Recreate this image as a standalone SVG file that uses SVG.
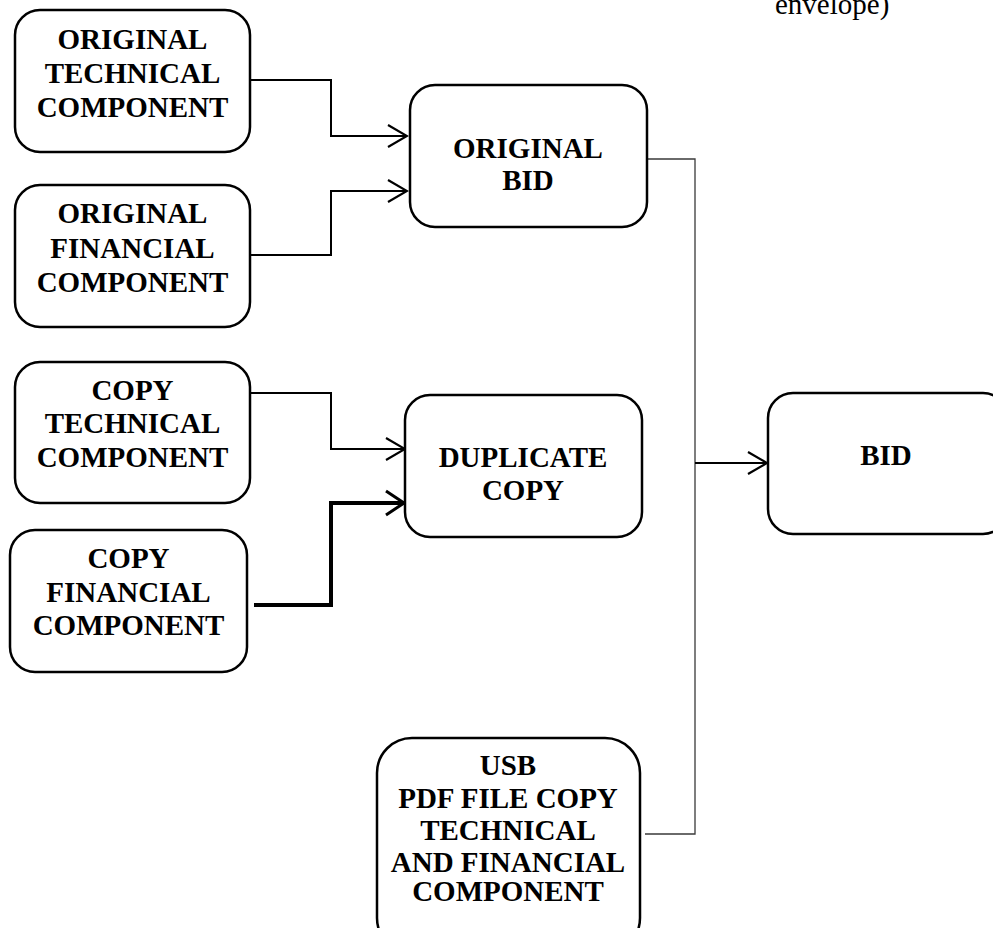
<svg xmlns="http://www.w3.org/2000/svg" width="993" height="928" viewBox="0 0 993 928">
<style>
.box{fill:#fff;stroke:#000;stroke-width:2.5}
.lbl{font-family:"Liberation Serif","Times New Roman",serif;font-weight:bold;font-size:29px;text-anchor:middle;fill:#000}
.note{font-family:"Liberation Serif","Times New Roman",serif;font-size:29px;fill:#000}
.wire{fill:none;stroke:#000;stroke-width:2}
.thick{fill:none;stroke:#000;stroke-width:4}
.thin{fill:none;stroke:#3a3a3a;stroke-width:1.3}
</style>
<defs>
<marker id="arr" markerUnits="userSpaceOnUse" viewBox="-22 -13 24 26" markerWidth="24" markerHeight="26" refX="0" refY="0" orient="auto">
<polyline points="-19,-11 0,0 -19,11" fill="none" stroke="#000" stroke-width="2.2"/>
</marker>
<marker id="arrT" markerUnits="userSpaceOnUse" viewBox="-22 -14 24 28" markerWidth="24" markerHeight="28" refX="0" refY="0" orient="auto">
<polyline points="-18,-12 0,0 -18,12" fill="none" stroke="#000" stroke-width="3"/>
</marker>
</defs>
<text class="note" x="775" y="14">envelope)</text>
<g id="connectors">
<path class="wire" d="M250,80 H331 V136 H407" marker-end="url(#arr)"/>
<path class="wire" d="M250,255 H331 V191 H407" marker-end="url(#arr)"/>
<path class="wire" d="M250,393 H331 V449 H405" marker-end="url(#arr)"/>
<path class="thick" d="M254,605 H331 V503 H404" marker-end="url(#arrT)"/>
<path class="thin" d="M642,159 H695 V834 H645"/>
<path class="wire" d="M695,463 H767" marker-end="url(#arr)"/>
</g>
<g id="orig-tech">
<rect class="box" x="15" y="10" width="235" height="142" rx="25"/>
<text class="lbl" x="132.5" y="49">ORIGINAL</text>
<text class="lbl" x="132.5" y="83">TECHNICAL</text>
<text class="lbl" x="132.5" y="117">COMPONENT</text>
</g>
<g id="orig-fin">
<rect class="box" x="15" y="185" width="235" height="142" rx="25"/>
<text class="lbl" x="132.5" y="223">ORIGINAL</text>
<text class="lbl" x="132.5" y="258">FINANCIAL</text>
<text class="lbl" x="132.5" y="292">COMPONENT</text>
</g>
<g id="copy-tech">
<rect class="box" x="15" y="362" width="235" height="141" rx="25"/>
<text class="lbl" x="132.5" y="400">COPY</text>
<text class="lbl" x="132.5" y="433">TECHNICAL</text>
<text class="lbl" x="132.5" y="467">COMPONENT</text>
</g>
<g id="copy-fin">
<rect class="box" x="10" y="530" width="237" height="142" rx="25"/>
<text class="lbl" x="128.5" y="568">COPY</text>
<text class="lbl" x="128.5" y="602">FINANCIAL</text>
<text class="lbl" x="128.5" y="635">COMPONENT</text>
</g>
<g id="orig-bid">
<rect class="box" x="410" y="85" width="237" height="142" rx="25"/>
<text class="lbl" x="528" y="158">ORIGINAL</text>
<text class="lbl" x="528" y="190">BID</text>
</g>
<g id="dup-copy">
<rect class="box" x="405" y="395" width="237" height="142" rx="25"/>
<text class="lbl" x="523" y="467">DUPLICATE</text>
<text class="lbl" x="523" y="500">COPY</text>
</g>
<g id="bid">
<rect class="box" x="768" y="393" width="240" height="141" rx="25"/>
<text class="lbl" x="886" y="465">BID</text>
</g>
<g id="usb">
<rect class="box" x="377" y="738" width="263" height="215" rx="35"/>
<text class="lbl" x="508" y="775">USB</text>
<text class="lbl" x="508" y="808">PDF FILE COPY</text>
<text class="lbl" x="508" y="840">TECHNICAL</text>
<text class="lbl" x="508" y="872">AND FINANCIAL</text>
<text class="lbl" x="508" y="901">COMPONENT</text>
</g>
</svg>
